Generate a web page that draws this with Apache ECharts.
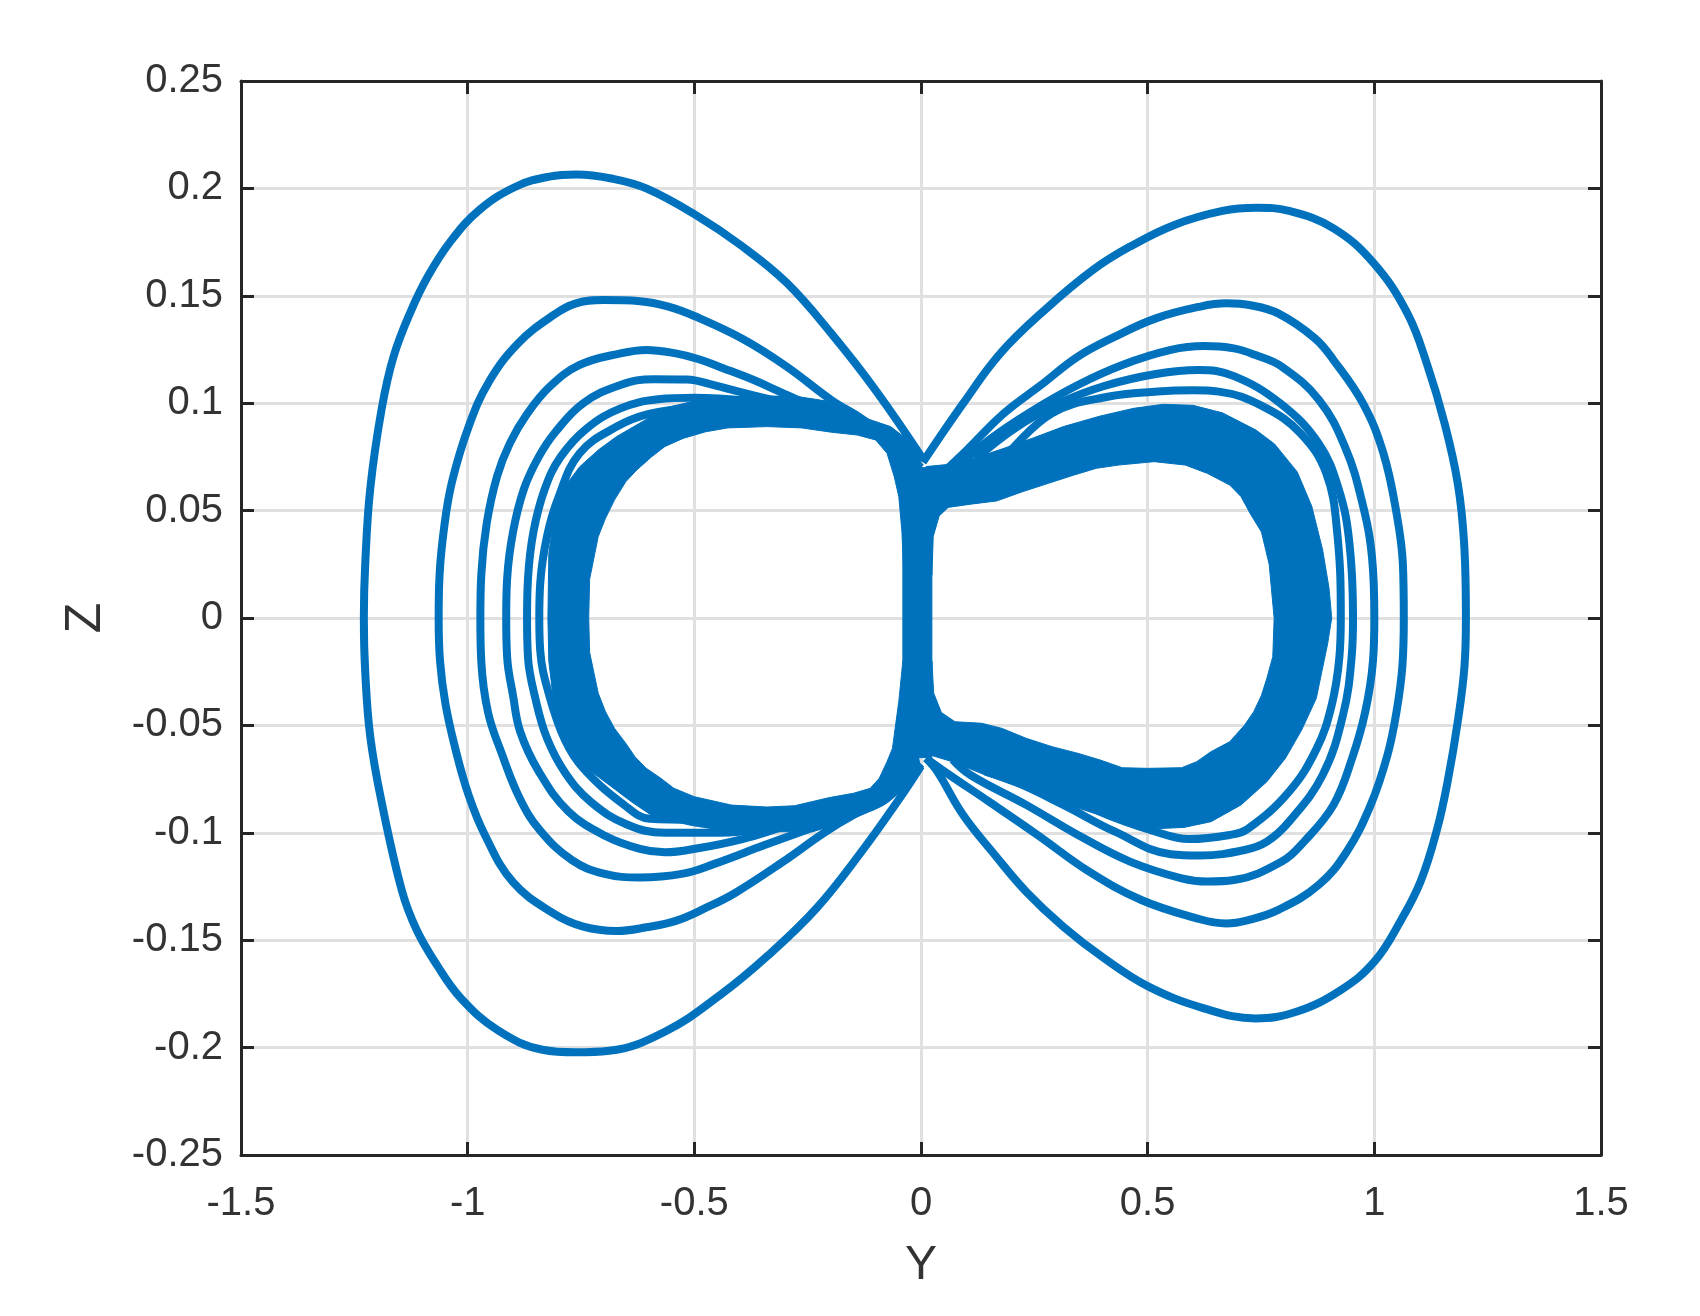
<!DOCTYPE html>
<html><head><meta charset="utf-8">
<style>html,body{margin:0;padding:0;background:#fff}#c{width:1700px;height:1316px}</style>
<script src="https://cdn.jsdelivr.net/npm/echarts@6/dist/echarts.min.js"></script>
</head><body><div id="c"></div>
<script>
const xTickLabels=['-1.5','-1','-0.5','0','0.5','1','1.5'];
const yTickLabels=['-0.25','-0.2','-0.15','-0.1','-0.05','0','0.05','0.1','0.15','0.2','0.25'];
const xAxisName='Y', yAxisName='Z';

// Left lobes: upper and lower lists both run from Z=0 to the centre.
const loopL1Upper=[[-1.229,0],[-1.226,.025],[-1.215,.06],[-1.19,.097],[-1.163,.122],[-1.125,.143],[-1.088,.159],[-1.039,.175],[-.974,.19],[-.892,.201],[-.82,.2055],[-.76,.2065],[-.68,.2045],[-.606,.2],[-.5,.188],[-.394,.173],[-.296,.156],[-.198,.1325],[-.1,.106],[.006,.0735]];
const loopL1Lower=[[-1.229,0],[-1.226,-.025],[-1.215,-.055],[-1.19,-.0855],[-1.145,-.127],[-1.113,-.145],[-1.068,-.1615],[-1.015,-.177],[-.933,-.192],[-.835,-.201],[-.761,-.2022],[-.688,-.2015],[-.565,-.1926],[-.443,-.1755],[-.337,-.157],[-.23,-.135],[-.132,-.109],[-.042,-.0824],[0,-.069]];
const loopL2Upper=[[-1.064,0],[-1.062,.02],[-1.052,.042],[-1.035,.063],[-.998,.089],[-.953,.11],[-.888,.128],[-.811,.141],[-.761,.1465],[-.7,.148],[-.62,.1475],[-.557,.145],[-.5,.1406],[-.394,.13],[-.296,.117],[-.198,.1015],[-.132,.093],[-.067,.083],[0,.07]];
const loopL2Lower=[[-1.064,0],[-1.061,-.02],[-1.049,-.04],[-1.027,-.061],[-.998,-.0824],[-.962,-.101],[-.9,-.123],[-.811,-.1375],[-.745,-.1437],[-.672,-.1457],[-.606,-.144],[-.541,-.141],[-.475,-.135],[-.41,-.128],[-.304,-.1134],[-.214,-.1],[-.149,-.0917],[-.075,-.084],[0,-.068]];
const loopL3Upper=[[-.972,0],[-.97,.02],[-.958,.044],[-.935,.066],[-.907,.0813],[-.868,.0953],[-.819,.1077],[-.753,.1178],[-.663,.1232],[-.606,.1248],[-.541,.1232],[-.492,.1206],[-.435,.1162],[-.369,.1108],[-.312,.1054],[-.255,.1],[-.18,.094],[-.09,.085],[0,.068]];
const loopL3Lower=[[-.972,0],[-.97,-.02],[-.955,-.044],[-.925,-.063],[-.885,-.084],[-.84,-.099],[-.77,-.1127],[-.7,-.119],[-.62,-.1208],[-.525,-.119],[-.459,-.1147],[-.345,-.1057],[-.18,-.093],[-.09,-.085],[0,-.068]];
const loopL4Upper=[[-.915,0],[-.913,.018],[-.9,.04],[-.876,.06],[-.843,.0751],[-.806,.0867],[-.745,.1],[-.663,.1085],[-.59,.1112],[-.516,.111],[-.459,.1085],[-.402,.1054],[-.328,.1015],[-.2,.095],[-.1,.085],[0,.068]];
const loopL4Lower=[[-.915,0],[-.913,-.018],[-.9,-.036],[-.884,-.053],[-.843,-.0715],[-.778,-.09],[-.696,-.1015],[-.62,-.1075],[-.565,-.1091],[-.492,-.1072],[-.394,-.1029],[-.3,-.097],[-.18,-.09],[-.09,-.083],[0,-.068]];
const loopL5Upper=[[-.869,0],[-.867,.018],[-.855,.04],[-.83,.06],[-.795,.075],[-.737,.0883],[-.663,.0976],[-.58,.1018],[-.5,.1025],[-.38,.101]];
const loopL5Lower=[[-.869,0],[-.867,-.018],[-.85,-.038],[-.825,-.056],[-.785,-.072],[-.729,-.0855],[-.65,-.096],[-.565,-.1],[-.443,-.1],[-.35,-.098]];
const loopL6Upper=[[-.842,0],[-.84,.016],[-.825,.038],[-.8,.056],[-.753,.0767],[-.672,.089],[-.6,.095],[-.5,.098]];
const loopL6Lower=[[-.842,0],[-.84,-.015],[-.82,-.036],[-.785,-.057],[-.745,-.07],[-.655,-.087],[-.598,-.0935],[-.5,-.094]];

// Right lobes: upper lists run from the centre to Z=0, lower lists from Z=0 to the centre.
const loopR1Upper=[[.004,.0725],[.093,.0999],[.175,.1232],[.273,.1434],[.379,.162],[.461,.1729],[.559,.183],[.665,.1895],[.74,.191],[.812,.1895],[.91,.1814],[.999,.1651],[1.073,.1418],[1.118,.117],[1.155,.0906],[1.184,.0627],[1.198,.035],[1.202,0]];
const loopR1Lower=[[1.202,0],[1.199,-.022],[1.184,-.0482],[1.163,-.0746],[1.139,-.0979],[1.102,-.1227],[1.057,-.1414],[1,-.16],[.926,-.1732],[.828,-.1833],[.738,-.1864],[.624,-.1817],[.502,-.1716],[.404,-.1584],[.314,-.1437],[.232,-.1274],[.163,-.1103],[.093,-.0917],[.036,-.0715],[.011,-.0653]];
const loopR2Upper=[[.04,.066],[.101,.0782],[.183,.0953],[.265,.1085],[.346,.1217],[.428,.131],[.518,.1395],[.616,.145],[.673,.1465],[.73,.1455],[.788,.1418],[.869,.1302],[.91,.1201],[.975,.0999],[1.02,.0767],[1.049,.0487],[1.063,.025],[1.065,0]];
const loopR2Lower=[[1.065,0],[1.062,-.022],[1.049,-.0436],[1.029,-.0638],[.992,-.087],[.939,-.1088],[.877,-.1243],[.787,-.136],[.722,-.1406],[.673,-.1422],[.608,-.1398],[.486,-.1313],[.371,-.1181],[.257,-.101],[.15,-.0855],[.052,-.0715],[.011,-.0653]];
const loopR3Upper=[[.07,.068],[.15,.0829],[.248,.0968],[.346,.1085],[.444,.1178],[.551,.1248],[.624,.1266],[.69,.1255],[.738,.1224],[.796,.117],[.878,.1015],[.935,.0798],[.972,.0549],[.995,.028],[1,0]];
const loopR3Lower=[[1,0],[.997,-.02],[.98,-.0436],[.951,-.0653],[.91,-.087],[.845,-.1041],[.796,-.1134],[.69,-.122],[.632,-.1227],[.575,-.1212],[.461,-.1134],[.346,-.101],[.232,-.087],[.109,-.0731],[.07,-.066]];
const loopR4Upper=[[.12,.074],[.207,.0883],[.305,.1],[.404,.108],[.518,.1136],[.612,.1155],[.689,.1127],[.792,.1],[.877,.0813],[.922,.0596],[.945,.035],[.953,0]];
const loopR4Lower=[[.953,0],[.95,-.018],[.931,-.0451],[.886,-.0731],[.812,-.0948],[.763,-.1041],[.714,-.108],[.616,-.1106],[.551,-.11],[.428,-.0995],[.314,-.087],[.207,-.0762],[.142,-.0715]];
const loopR5Upper=[[.19,.076],[.289,.0953],[.412,.103],[.522,.1054],[.6,.106],[.657,.1054],[.755,.0984],[.837,.086],[.894,.0673],[.918,.04],[.926,0]];
const loopR5Lower=[[.926,0],[.923,-.018],[.906,-.0405],[.873,-.0607],[.812,-.0808],[.722,-.098],[.681,-.101],[.591,-.1029],[.518,-.0995],[.395,-.0902],[.265,-.0762]];

// Densely wound trajectory: edges of the solid bands.
const bandLeftOuterUpper=[[-.823,0],[-.821,.03],[-.806,.0518],[-.786,.0611],[-.753,.0704],[-.712,.0782],[-.672,.0844],[-.614,.0915],[-.56,.098],[-.47,.1025],[-.38,.1033],[-.279,.1033],[-.198,.1007],[-.132,.0937],[-.067,.0891],[0,.0782]];
const bandLeftOuterLower=[[-.823,0],[-.821,-.02],[-.81,-.04],[-.794,-.0498],[-.77,-.0607],[-.737,-.07],[-.688,-.0777],[-.639,-.0855],[-.59,-.0925],[-.508,-.0965],[-.435,-.099],[-.345,-.0995],[-.239,-.0995],[-.165,-.0948],[-.083,-.087],[0,-.0715]];
const bandLeftInnerUpper=[[-.733,0],[-.731,.018],[-.712,.0379],[-.696,.0464],[-.676,.055],[-.651,.0635],[-.627,.0689],[-.594,.0751],[-.565,.0798],[-.525,.0836],[-.475,.0867],[-.426,.0885],[-.34,.0891],[-.263,.0885],[-.198,.0865],[-.141,.0852],[-.1,.0829],[-.075,.0767],[-.059,.0658],[-.049,.0565],[-.042,.04],[-.038,.02]];
const bandLeftInnerLower=[[-.733,0],[-.731,-.016],[-.712,-.035],[-.696,-.0436],[-.676,-.0514],[-.651,-.0584],[-.631,-.0646],[-.606,-.07],[-.574,-.0746],[-.545,-.0793],[-.5,-.0832],[-.418,-.0871],[-.34,-.088],[-.279,-.0874],[-.202,-.0836],[-.149,-.0816],[-.112,-.0793],[-.092,-.0746],[-.075,-.0669],[-.063,-.0607],[-.049,-.0389],[-.04,-.02]];
const bandRightOuterUpper=[[.011,.0705],[.085,.072],[.183,.079],[.25,.084],[.314,.0891],[.395,.094],[.469,.0976],[.534,.0995],[.6,.099],[.665,.0955],[.739,.0875],[.78,.081],[.83,.068],[.862,.052],[.886,.0317],[.9,.014],[.906,0]];
const bandRightOuterLower=[[.906,0],[.897,-.012],[.872,-.0374],[.84,-.052],[.804,-.0653],[.763,-.0762],[.706,-.087],[.64,-.0948],[.58,-.0975],[.526,-.098],[.444,-.0948],[.371,-.0902],[.306,-.0855],[.224,-.0793],[.142,-.0731],[.069,-.0669],[.02,-.0638]];
const bandRightInnerUpper=[[.024,.02],[.027,.038],[.04,.0475],[.06,.0515],[.11,.053],[.167,.0545],[.224,.0588],[.281,.0627],[.338,.0666],[.387,.0697],[.436,.0712],[.514,.0728],[.583,.0712],[.632,.0673],[.681,.0619],[.706,.0565],[.726,.0487],[.751,.04],[.768,.025],[.779,0]];
const bandRightInnerLower=[[.779,0],[.776,-.018],[.763,-.028],[.751,-.036],[.734,-.0436],[.714,-.0498],[.681,-.0576],[.64,-.0622],[.608,-.0669],[.575,-.0697],[.5,-.07],[.444,-.0697],[.395,-.0661],[.346,-.063],[.289,-.0599],[.232,-.056],[.179,-.0514],[.134,-.049],[.075,-.0483],[.045,-.044],[.028,-.035],[.024,-.02]];
const bandCentre=[[-.04,.07],[.024,.07],[.024,-.065],[-.04,-.065]];

const BLUE='#0072BD', INK='#333333', FRAME='#262626', GRID='#e0e0e0';
const rev=a=>a.slice().reverse();
const leftLoop=(u,l)=>rev(u).concat(l.slice(1));
const rightLoop=(u,l)=>u.concat(l.slice(1));

const loops=[
 leftLoop(loopL1Upper,loopL1Lower),leftLoop(loopL2Upper,loopL2Lower),leftLoop(loopL3Upper,loopL3Lower),
 leftLoop(loopL4Upper,loopL4Lower),leftLoop(loopL5Upper,loopL5Lower),leftLoop(loopL6Upper,loopL6Lower),
 rightLoop(loopR1Upper,loopR1Lower),rightLoop(loopR2Upper,loopR2Lower),rightLoop(loopR3Upper,loopR3Lower),
 rightLoop(loopR4Upper,loopR4Lower),rightLoop(loopR5Upper,loopR5Lower)
];
const bands=[
 rev(bandLeftOuterUpper).concat(bandLeftOuterLower.slice(1),rev(bandLeftInnerLower),bandLeftInnerUpper.slice(1)),
 bandRightOuterUpper.concat(bandRightOuterLower.slice(1),rev(bandRightInnerLower),rev(bandRightInnerUpper).slice(1)),
 bandCentre
];

const bandSeries=bands.map(b=>({
  type:'custom',coordinateSystem:'cartesian2d',data:b,encode:{x:0,y:1},clip:true,silent:true,z:3,
  renderItem(params,api){
    if(params.dataIndex!==0) return null;
    return {type:'polygon',shape:{points:b.map(p=>api.coord(p))},style:{fill:BLUE,stroke:BLUE,lineWidth:1}};
  }
}));
const loopSeries=loops.map(d=>({
  type:'line',data:d,showSymbol:false,symbol:'none',smooth:0.4,silent:true,z:3,
  lineStyle:{color:BLUE,width:8,cap:'butt',join:'round'}
}));

const ax=(common,extra)=>Object.assign({},common,extra);
const xCommon={type:'value',min:-1.5,max:1.5,interval:0.5};
const yCommon={type:'value',min:-0.25,max:0.25,interval:0.05};
const frameLine={show:true,onZero:false,lineStyle:{color:FRAME,width:3}};
const frameTick={show:true,inside:true,length:13,lineStyle:{color:FRAME,width:3}};
const font={color:INK,fontFamily:'"Liberation Sans",Arial,sans-serif'};

const chart=echarts.init(document.getElementById('c'),null,{renderer:'canvas'});
chart.setOption({
  animation:false,backgroundColor:'#fff',
  grid:{left:241,right:99,top:81,bottom:161,containLabel:false},
  xAxis:[
    ax(xCommon,{position:'bottom',name:xAxisName,nameLocation:'middle',nameGap:87,
      nameTextStyle:Object.assign({fontSize:48},font),
      axisLine:frameLine,axisTick:frameTick,
      axisLabel:Object.assign({fontSize:40,margin:29,showMinLabel:true,showMaxLabel:true,formatter:(v)=>xTickLabels[Math.round((v+1.5)/0.5)]},font),
      splitLine:{show:true,lineStyle:{color:GRID,width:3}}}),
    ax(xCommon,{position:'top',axisLine:frameLine,axisTick:frameTick,axisLabel:{show:false},splitLine:{show:false}})
  ],
  yAxis:[
    ax(yCommon,{position:'left',name:yAxisName,nameLocation:'middle',nameGap:130,
      nameTextStyle:Object.assign({fontSize:50},font),
      axisLine:frameLine,axisTick:frameTick,
      axisLabel:Object.assign({fontSize:40,margin:18,showMinLabel:true,showMaxLabel:true,formatter:(v)=>yTickLabels[Math.round((v+0.25)/0.05)]},font),
      splitLine:{show:true,lineStyle:{color:GRID,width:3}}}),
    ax(yCommon,{position:'right',axisLine:frameLine,axisTick:frameTick,axisLabel:{show:false},splitLine:{show:false}})
  ],
  series:bandSeries.concat(loopSeries)
});
</script></body></html>
